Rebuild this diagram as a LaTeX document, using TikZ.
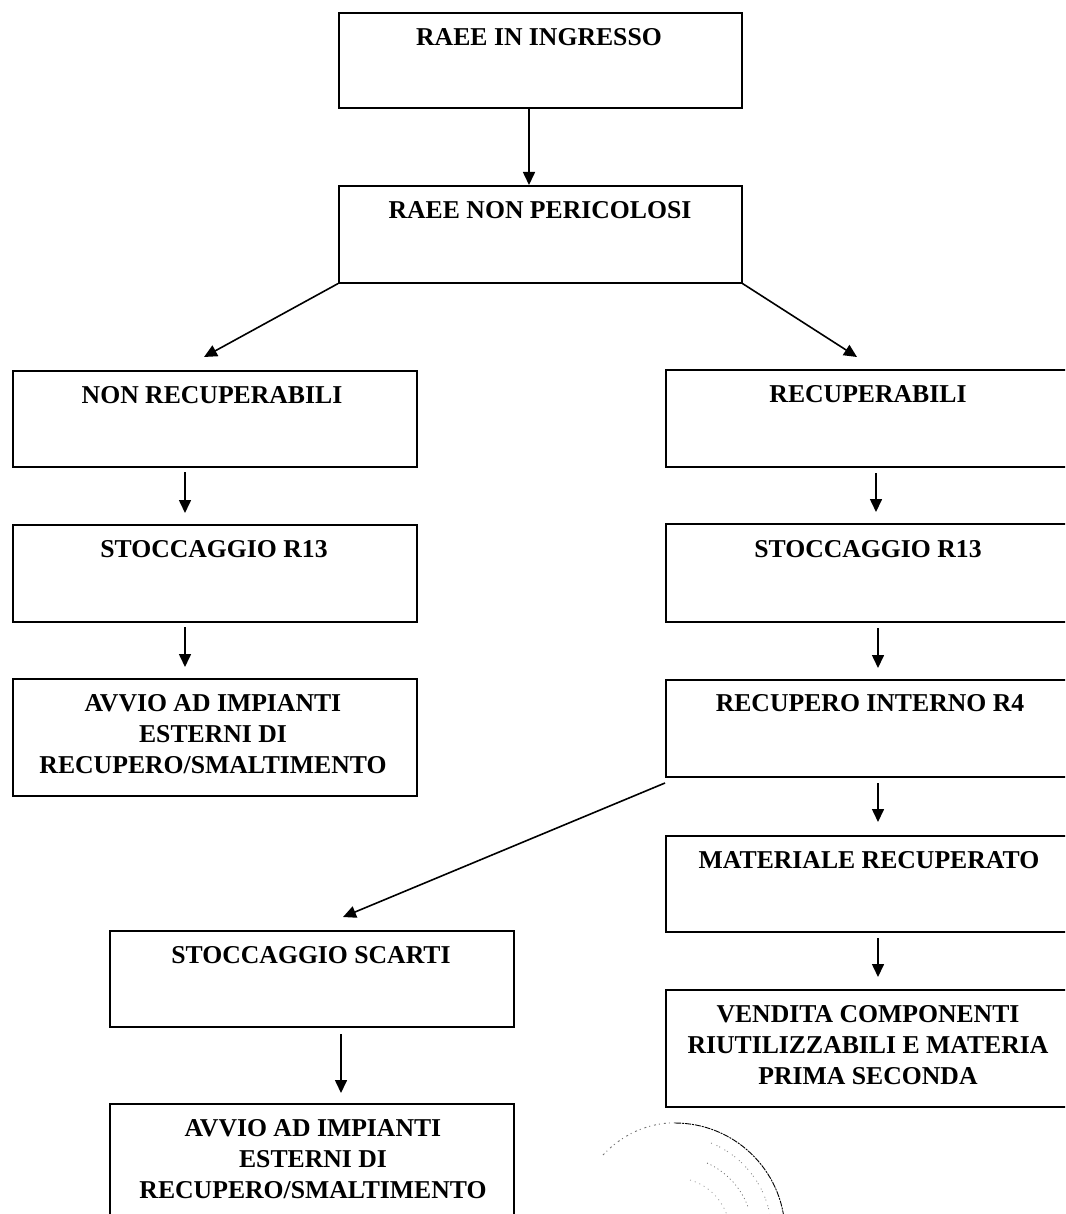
\documentclass[tikz,border=0pt]{standalone}
\usepackage{fontspec}
\setmainfont{Liberation Serif}
\usetikzlibrary{arrows.meta}
\tikzset{
  x=1pt,y=-1pt,
  box/.style={draw=black,line width=1.6pt,anchor=north west,inner sep=0pt},
  lbl/.style={anchor=center,align=center,inner sep=0pt,font=\fontsize{25.7}{31}\selectfont\bfseries,text=black},
  conn/.style={draw=black,line width=1.6pt,-{Triangle[length=13pt,width=12pt]}},
  stampline/.style={draw=black,line width=0.9pt},
}
\newcommand{\bx}[5]{\node[box,minimum width=#3pt,minimum height=#4pt] (#5) at (#1,#2) {};}
\begin{document}
\begin{tikzpicture}
\useasboundingbox (0,0) rectangle (1065,1214);
\clip (0,0) rectangle (1065,1214);
\bx{338}{12}{403}{95}{a}
\bx{338}{185}{403}{97}{b}
\bx{12}{370}{404}{96}{c}
\bx{665}{369}{410}{97}{d}
\bx{12}{524}{404}{97}{e}
\bx{665}{523}{410}{98}{f}
\bx{12}{678}{404}{117}{g}
\bx{665}{679}{410}{97}{h}
\bx{665}{835}{410}{96}{i}
\bx{109}{930}{404}{96}{j}
\bx{665}{989}{410}{117}{k}
\bx{109}{1103}{404}{130}{l}
\node[lbl] (ta) at (539,37) {RAEE IN INGRESSO};
\node[lbl] (tb) at (540,210) {RAEE NON PERICOLOSI};
\node[lbl] (tc) at (212,395) {NON RECUPERABILI};
\node[lbl] (td) at (868,394) {RECUPERABILI};
\node[lbl] (te) at (214,549) {STOCCAGGIO R13};
\node[lbl] (tf) at (868,549) {STOCCAGGIO R13};
\node[lbl] (tg) at (213,734) {AVVIO AD IMPIANTI\\ESTERNI DI\\RECUPERO/SMALTIMENTO};
\node[lbl] (th) at (870,703) {RECUPERO INTERNO R4};
\node[lbl] (ti) at (869,860) {MATERIALE RECUPERATO};
\node[lbl] (tj) at (311,955) {STOCCAGGIO SCARTI};
\node[lbl] (tk) at (868,1045) {VENDITA COMPONENTI\\RIUTILIZZABILI E MATERIA\\PRIMA SECONDA};
\node[lbl] (tl) at (313,1159) {AVVIO AD IMPIANTI\\ESTERNI DI\\RECUPERO/SMALTIMENTO};
\coordinate (ab) at (529,107);
\coordinate (ba) at (529,185);
\draw[conn] (ab) -- (ba);
\coordinate (p1) at (204,357);
\coordinate (p2) at (857,357);
\draw[conn] (b.south west) -- (p1);
\draw[conn] (b.south east) -- (p2);
\foreach \n/\xa/\ya/\xb/\yb in {cs/185/472/185/513, ds/876/473/876/512, es/185/627/185/667, fs/878/628/878/668, hs/878/783/878/822, is/878/938/878/977, js/341/1034/341/1093, hj/665/783/343/917}{
  \coordinate (\n1) at (\xa,\ya);
  \coordinate (\n2) at (\xb,\yb);
  \draw[conn] (\n1) -- (\n2);
}
% stamp fragment
\draw[stampline,black!55,dash pattern=on 2pt off 3pt on 1pt off 4pt] (603,1155) arc[start angle=-135,end angle=-90,x radius=102,y radius=110];
\draw[stampline,dash pattern=on 6pt off 1pt on 2pt off 1pt] (675,1123) arc[start angle=-90,end angle=-2,radius=110];
\draw[black!60,line width=0.7pt,dash pattern=on 1pt off 3pt] (707,1163) arc[start angle=-66,end angle=-20,radius=77];
\draw[black!45,line width=0.8pt,dash pattern=on 1pt off 5pt on 1pt off 2pt] (711,1143) arc[start angle=-68,end angle=-5,radius=97];
\draw[black!40,line width=0.8pt,dash pattern=on 1pt off 4pt] (690,1180) arc[start angle=-74,end angle=-15,radius=55];
\end{tikzpicture}
\end{document}
